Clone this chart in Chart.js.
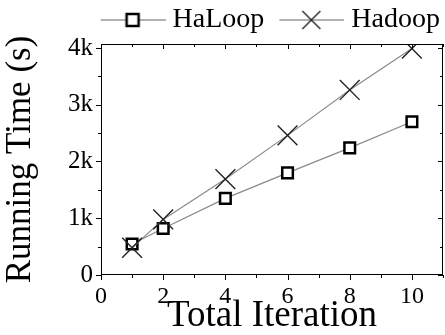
<!DOCTYPE html>
<html>
<head>
<meta charset="utf-8">
<script src="https://cdn.jsdelivr.net/npm/chart.js@4/dist/chart.umd.min.js"></script>
<style>
  html, body { margin: 0; padding: 0; background: #fff; }
  #wrap { width: 445px; height: 335px; }
</style>
</head>
<body>
<div id="wrap"><canvas id="chart" width="445" height="335"></canvas></div>
<script>
// values
var iterations = [1, 2, 4, 6, 8, 10];
var haloopTime = [545, 820, 1350, 1800, 2240, 2700];
var hadoopTime = [480, 980, 1690, 2460, 3260, 3990];
var seriesNames = ['HaLoop', 'Hadoop'];
var xTicks = [0, 2, 4, 6, 8, 10];
var xMinorTicks = [1, 3, 5, 7, 9, 11];
var yTicks = [0, 1000, 2000, 3000, 4000];
var yMinorTicks = [500, 1500, 2500, 3500];

var serif = "'Liberation Serif', 'Times New Roman', serif";

// legend icons: line with the marker in the middle (blank strip on the left keeps items apart)
function legendIcon(kind) {
    var c = document.createElement('canvas');
    c.width = 84; c.height = 20;
    var g = c.getContext('2d');
    var x0 = 19, mid = 19 + 32;
    g.strokeStyle = '#666';
    g.lineWidth = 1.2;
    g.beginPath(); g.moveTo(x0, 10); g.lineTo(84, 10); g.stroke();
    if (kind == 'rect') {
        g.fillStyle = '#fff';
        g.fillRect(mid - 6, 4, 12, 12);
        g.strokeStyle = '#000';
        g.lineWidth = 2.5;
        g.strokeRect(mid - 6, 4, 12, 12);
    } else {
        g.strokeStyle = '#222';
        g.lineWidth = 1.4;
        g.beginPath();
        g.moveTo(mid - 9, 1); g.lineTo(mid + 9, 19);
        g.moveTo(mid + 9, 1); g.lineTo(mid - 9, 19);
        g.stroke();
    }
    return c;
}
var icons = [legendIcon('rect'), legendIcon('cross')];

function tickList(major, minor) {
    return major.concat(minor).sort(function(a, b) { return a - b; }).map(function(v) { return {value: v}; });
}

// frame around the plot with tick marks (out on left/bottom, in on top/right)
var framePlugin = {
    id: 'frame',
    afterDraw: function(chart) {
        var ctx = chart.ctx, a = chart.chartArea;
        var xs = chart.scales.x, ys = chart.scales.y;
        ctx.save();
        ctx.strokeStyle = '#000';
        ctx.lineWidth = 1;
        ctx.strokeRect(a.left + 0.5, a.top + 0.5, a.right - a.left - 1, a.bottom - a.top - 1);
        ctx.beginPath();
        xs.ticks.forEach(function(t) {
            var px = Math.round(xs.getPixelForValue(t.value)) + 0.5;
            var len = xTicks.indexOf(t.value) >= 0 ? 5 : 3;
            ctx.moveTo(px, a.bottom); ctx.lineTo(px, a.bottom + len);
            ctx.moveTo(px, a.top); ctx.lineTo(px, a.top + len);
        });
        ys.ticks.forEach(function(t) {
            var py = Math.round(ys.getPixelForValue(t.value)) + 0.5;
            var len = yTicks.indexOf(t.value) >= 0 ? 5 : 3;
            ctx.moveTo(a.left, py); ctx.lineTo(a.left - len, py);
            ctx.moveTo(a.right, py); ctx.lineTo(a.right - len, py);
        });
        ctx.stroke();
        ctx.restore();
    }
};

new Chart(document.getElementById('chart'), {
    type: 'line',
    data: {
        datasets: [
            {
                label: seriesNames[0],
                data: iterations.map(function(x, i) { return {x: x, y: haloopTime[i]}; }),
                borderColor: '#8a8a8a',
                borderWidth: 1.2,
                pointStyle: 'rect',
                pointRadius: 7.5,
                pointBackgroundColor: '#fff',
                pointBorderColor: '#000',
                pointBorderWidth: 2.5,
                fill: false,
                order: 2
            }, {
                label: seriesNames[1],
                data: iterations.map(function(x, i) { return {x: x, y: hadoopTime[i]}; }),
                borderColor: '#8a8a8a',
                borderWidth: 1.2,
                pointStyle: 'crossRot',
                pointRadius: 14,
                pointBorderColor: '#222',
                pointBorderWidth: 1.4,
                fill: false,
                order: 1
            }
        ]
    },
    options: {
        responsive: false,
        animation: false,
        layout: { autoPadding: false, padding: { left: 0, right: 2, top: 3, bottom: 0 } },
        plugins: {
            tooltip: { enabled: false },
            legend: {
                display: true,
                position: 'top',
                align: 'end',
                labels: {
                    color: '#000',
                    font: { family: serif, size: 28 },
                    usePointStyle: true,
                    pointStyleWidth: 70,
                    padding: 3,
                    sort: function(a, b) { return a.datasetIndex - b.datasetIndex; },
                    generateLabels: function(chart) {
                        var items = Chart.defaults.plugins.legend.labels.generateLabels(chart);
                        items.forEach(function(it) { it.pointStyle = icons[it.datasetIndex]; });
                        return items;
                    }
                }
            }
        },
        scales: {
            x: {
                type: 'linear',
                min: 0,
                max: 11,
                afterBuildTicks: function(scale) { scale.ticks = tickList(xTicks, xMinorTicks); },
                afterFit: function(scale) { scale.height = 60; scale.paddingLeft = 0; scale.paddingRight = 0; },
                grid: { display: true, drawOnChartArea: false, drawTicks: true, tickLength: 5, tickColor: 'rgba(0,0,0,0)' },
                border: { display: false },
                ticks: {
                    autoSkip: false,
                    maxRotation: 0,
                    padding: 2,
                    color: '#000',
                    font: { family: serif, size: 24 },
                    callback: function(v) { return xTicks.indexOf(v) >= 0 ? String(v) : ''; }
                },
                title: {
                    display: true,
                    text: 'Total Iteration',
                    color: '#000',
                    font: { family: serif, size: 37, lineHeight: 1 },
                    padding: { top: 0, bottom: 0 }
                }
            },
            y: {
                type: 'linear',
                min: 0,
                max: 4070,
                afterBuildTicks: function(scale) { scale.ticks = tickList(yTicks, yMinorTicks); },
                afterFit: function(scale) { scale.width = 101; scale.paddingTop = 44; scale.paddingBottom = 0; },
                grid: { display: true, drawOnChartArea: false, drawTicks: true, tickLength: 5, tickColor: 'rgba(0,0,0,0)' },
                border: { display: false },
                ticks: {
                    autoSkip: false,
                    padding: 3,
                    color: '#000',
                    font: { family: serif, size: 25 },
                    callback: function(v) {
                        if (yTicks.indexOf(v) < 0) return '';
                        return v === 0 ? '0' : (v / 1000) + 'k';
                    }
                },
                title: {
                    display: true,
                    text: 'Running Time (s)',
                    color: '#000',
                    font: { family: serif, size: 35, lineHeight: 1 },
                    padding: { top: 3, bottom: 0 }
                }
            }
        }
    },
    plugins: [framePlugin]
});
</script>
</body>
</html>
